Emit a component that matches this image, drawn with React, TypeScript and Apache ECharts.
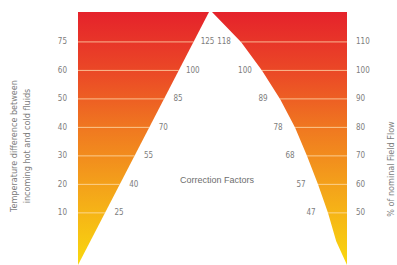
import React, { useEffect, useRef } from "react";
import * as echarts from "echarts";

// Tick levels (shared by both panels) and their labels
const levels = [1, 2, 3, 4, 5, 6, 7];
const tempDiffTicks = ["10", "20", "30", "40", "50", "60", "75"];
const flowTicks = ["50", "60", "70", "80", "90", "100", "110"];
// Correction factors written along the edges of panels A and B
const factorsA = ["25", "40", "55", "70", "85", "100", "125"];
const factorsB = ["47", "57", "68", "78", "89", "100", "118"];
// Curved edge of panel B: level -> fraction of panel width (from apex side)
const edgeLevelsB = [8.05, 7, 6, 5, 4, 3, 2, 1, 0, -0.83];
const edgeFracB = [0, 0.215, 0.37, 0.504, 0.615, 0.704, 0.785, 0.859, 0.92, 1];

const Y_MIN = -0.83;
const Y_MAX = 8.05;

const LABEL_COLOR = "#7d7d7d";
const FONT = "'Liberation Sans Narrow', 'DejaVu Sans Condensed', sans-serif";
const LINE_COLOR = "rgba(255, 226, 180, 0.75)";

const gradient = () => ({
  type: "linear",
  x: 0,
  y: 0,
  x2: 0,
  y2: 1,
  colorStops: [
    { offset: 0, color: "#e5222b" },
    { offset: 0.25, color: "#eb4b26" },
    { offset: 0.47, color: "#f07a20" },
    { offset: 0.7, color: "#f4a41a" },
    { offset: 1, color: "#f9d80e" },
  ],
});

export default function App() {
  const ref = useRef<HTMLDivElement>(null);
  useEffect(() => {
    if (!ref.current) return;
    const chart = echarts.init(ref.current, undefined, { renderer: "svg" });

    const yAxisBase = (position: "left" | "right", ticks: string[], margin: number) => ({
      type: "value",
      position,
      min: Y_MIN,
      max: Y_MAX,
      axisLine: { show: false },
      axisTick: { show: false },
      splitLine: { show: false },
      axisLabel: {
        customValues: levels,
        formatter: (v: number) => ticks[levels.indexOf(Math.round(v))] ?? "",
        margin,
        color: LABEL_COLOR,
        fontSize: 8,
        fontFamily: FONT,
      },
    });

    const option: any = {
      animation: false,
      backgroundColor: "#ffffff",
      grid: [
        { left: 78, top: 12, width: 131, height: 253 },
        { left: 212, top: 12, width: 135, height: 253 },
      ],
      xAxis: [
        { type: "value", gridIndex: 0, min: 0, max: 1, show: false },
        { type: "value", gridIndex: 1, min: 0, max: 1, show: false },
      ],
      yAxis: [
        { ...yAxisBase("left", tempDiffTicks, 11), gridIndex: 0 },
        { ...yAxisBase("right", flowTicks, 9), gridIndex: 1 },
      ],
      series: [
        {
          type: "custom",
          xAxisIndex: 0,
          yAxisIndex: 0,
          data: [0],
          renderItem: (_p: any, api: any) => {
            const tl = api.coord([0, Y_MAX]);
            const tr = api.coord([1, Y_MAX]);
            const bl = api.coord([0, Y_MIN]);
            const children: any[] = [
              { type: "polygon", shape: { points: [tl, tr, bl] }, style: { fill: gradient() } },
            ];
            levels.forEach((L, i) => {
              const f = (L - Y_MIN) / (Y_MAX - Y_MIN);
              const a = api.coord([0, L]);
              const b = api.coord([f, L]);
              children.push({
                type: "line",
                shape: { x1: a[0], y1: a[1], x2: b[0], y2: b[1] },
                style: { stroke: LINE_COLOR, lineWidth: 1 },
              });
              children.push({
                type: "text",
                x: b[0] + 14,
                y: b[1],
                style: {
                  text: factorsA[i],
                  align: "center",
                  verticalAlign: "middle",
                  fill: LABEL_COLOR,
                  fontSize: 8,
                  fontFamily: FONT,
                },
              });
            });
            return { type: "group", children };
          },
        },
        {
          type: "custom",
          xAxisIndex: 1,
          yAxisIndex: 1,
          data: [0],
          renderItem: (_p: any, api: any) => {
            const edge = edgeLevelsB.map((L, k) => api.coord([edgeFracB[k], L]));
            const tr = api.coord([1, Y_MAX]);
            const children: any[] = [
              { type: "polygon", shape: { points: [...edge, tr] }, style: { fill: gradient() } },
            ];
            levels.forEach((L, i) => {
              const k = edgeLevelsB.indexOf(L);
              const a = api.coord([edgeFracB[k], L]);
              const b = api.coord([1, L]);
              children.push({
                type: "line",
                shape: { x1: a[0], y1: a[1], x2: b[0], y2: b[1] },
                style: { stroke: LINE_COLOR, lineWidth: 1 },
              });
              children.push({
                type: "text",
                x: a[0] - 17,
                y: a[1],
                style: {
                  text: factorsB[i],
                  align: "center",
                  verticalAlign: "middle",
                  fill: LABEL_COLOR,
                  fontSize: 8,
                  fontFamily: FONT,
                },
              });
            });
            return { type: "group", children };
          },
        },
      ],
      graphic: [
        {
          type: "text",
          x: 135,
          y: 28,
          style: {
            text: "A",
            align: "center",
            verticalAlign: "middle",
            fill: "#ffffff",
            fontSize: 15,
            fontWeight: "bold",
            fontFamily: FONT,
          },
        },
        {
          type: "text",
          x: 291,
          y: 28,
          style: {
            text: "B",
            align: "center",
            verticalAlign: "middle",
            fill: "#ffffff",
            fontSize: 15,
            fontWeight: "bold",
            fontFamily: FONT,
          },
        },
        {
          type: "text",
          x: 217,
          y: 180,
          style: {
            text: "Correction Factors",
            align: "center",
            verticalAlign: "middle",
            fill: "#6e6e6e",
            fontSize: 9,
            fontFamily: "'Liberation Sans', sans-serif",
          },
        },
        {
          type: "text",
          x: 20,
          y: 146,
          rotation: Math.PI / 2,
          style: {
            text: "Temperature difference between\nincoming hot and cold fluids",
            align: "center",
            verticalAlign: "middle",
            fill: LABEL_COLOR,
            fontSize: 9,
            lineHeight: 13,
            fontFamily: FONT,
          },
        },
        {
          type: "text",
          x: 391,
          y: 169,
          rotation: Math.PI / 2,
          style: {
            text: "% of nominal Field Flow",
            align: "center",
            verticalAlign: "middle",
            fill: LABEL_COLOR,
            fontSize: 9,
            fontFamily: FONT,
          },
        },
      ],
    };

    chart.setOption(option);
    return () => chart.dispose();
  }, []);

  return (
    <div
      ref={ref}
      style={{ position: "absolute", left: 0, top: 0, width: 397, height: 265, background: "#fff" }}
    />
  );
}
